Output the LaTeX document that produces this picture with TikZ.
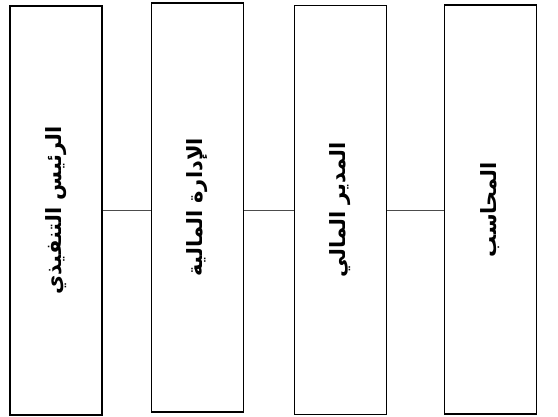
\documentclass[tikz,border=0pt]{standalone}
\usepackage{fontspec}
\usepackage{graphicx}
\newfontfamily\arabicfont[Script=Arabic]{DejaVu Sans}
\TeXXeTstate=1
\usetikzlibrary{positioning}

\begin{document}
\begin{tikzpicture}[x=1pt, y=-1pt,
      post/.style={draw=black, line width=1.3pt, fill=white,
                   minimum width=92pt, minimum height=409pt, inner sep=0pt,
                   font=\fontsize{21}{23}\selectfont\arabicfont\bfseries},
      link/.style={draw=black!70, line width=0.8pt}
    ]
    \useasboundingbox (0,0) rectangle (558,417);

    \node[post] (ceo) at (56,210.5) {\rotatebox{90}{\beginR الرئيس التنفيذي\endR}};
    \node[post] (fin) at (197.5,207.5) {\rotatebox{90}{\beginR الإدارة المالية\endR}};
    \node[post] (cfo) at (340.5,210) {\rotatebox{90}{\beginR المدير المالي\endR}};
    \node[post] (acc) at (490.5,209.5) {\rotatebox{90}{\beginR المحاسب\endR}};

    % horizontal links between neighbouring posts
    \draw[link] (ceo.east) -- (ceo.east -| fin.west);
    \draw[link] (fin.east |- cfo.west) -- (cfo.west);
    \draw[link] (cfo.east) -- (cfo.east -| acc.west);
  \end{tikzpicture}
\end{document}
